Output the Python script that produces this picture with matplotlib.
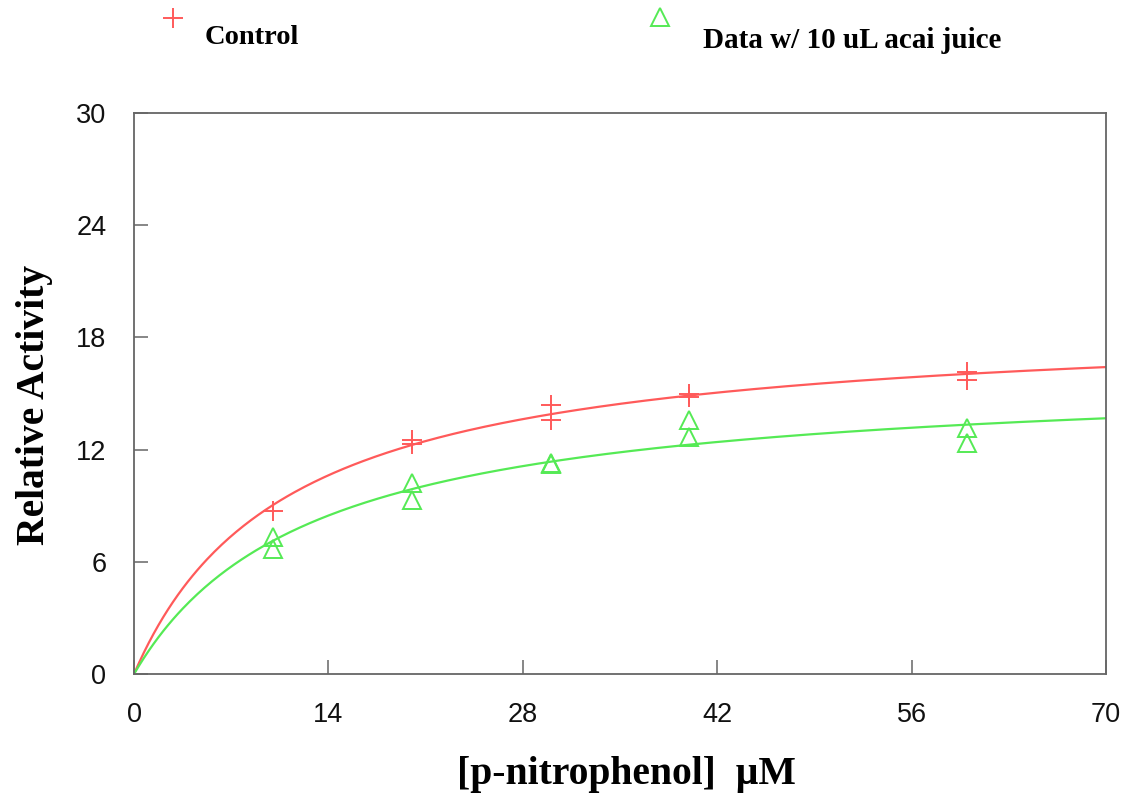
import numpy as np
import matplotlib
matplotlib.use("Agg")
import matplotlib.pyplot as plt

# ---- data ----
conc_control = [10, 20, 20, 30, 30, 40, 40, 60, 60]
act_control = [8.7, 12.5, 12.3, 14.4, 13.6, 15.0, 14.8, 16.15, 15.7]

conc_acai = [10, 10, 20, 20, 30, 30, 40, 40, 60, 60]
act_acai = [7.3, 6.7, 10.2, 9.3, 11.3, 11.25, 13.6, 12.7, 13.15, 12.35]

x_ticks = [0, 14, 28, 42, 56, 70]
y_ticks = [0, 6, 12, 18, 24, 30]
label_control = "Control"
label_acai = "Data w/ 10 uL acai juice"


def mm_fit(s, v):
    """Least-squares Michaelis-Menten fit (Vmax, Km) from the data."""
    s = np.asarray(s, float)
    v = np.asarray(v, float)
    best = None
    for km in np.linspace(0.5, 60, 6000):
        f = s / (km + s)
        vmax = np.dot(f, v) / np.dot(f, f)
        err = np.sum((v - vmax * f) ** 2)
        if best is None or err < best[0]:
            best = (err, vmax, km)
    return best[1], best[2]


red = "#ff5a5a"
green = "#55ea55"

fig = plt.figure(figsize=(11.37, 7.96), dpi=100)
ax = fig.add_axes([0.1179, 0.1533, 0.9727 - 0.1179, 0.858 - 0.1533])

xs = np.linspace(0, 70, 400)
for conc, act, col in [(conc_control, act_control, red), (conc_acai, act_acai, green)]:
    vmax, km = mm_fit(conc, act)
    ax.plot(xs, vmax * xs / (km + xs), color=col, lw=1.6, zorder=2)

ax.plot(conc_control, act_control, linestyle="none", marker="+", ms=15, mew=1.4,
        color=red, zorder=3)
ax.plot(conc_acai, act_acai, linestyle="none", marker="^", ms=13, mew=1.4,
        mfc="none", mec=green, zorder=3)

ax.set_xlim(0, 70)
ax.set_ylim(0, 30)
ax.set_xticks(x_ticks)
ax.set_yticks(y_ticks)
ax.tick_params(direction="in", length=10, width=1.1, color="#666666",
               labelsize=19.5, pad=20, top=False, right=False)
for lab in ax.get_xticklabels() + ax.get_yticklabels():
    lab.set_family("Liberation Sans")
    lab.set_color("#111111")
for sp in ax.spines.values():
    sp.set_color("#666666")
    sp.set_linewidth(1.3)

ax.set_xlabel("[p-nitrophenol]  \u00b5M", family="Liberation Serif", weight="bold",
              fontsize=28.5)
ax.xaxis.set_label_coords(0.507, -0.147)
ax.set_ylabel("Relative Activity", family="Liberation Serif", weight="bold",
              fontsize=28.5)
ax.yaxis.set_label_coords(-0.083, 0.48)

# legend above the axes
fig.lines.append(matplotlib.lines.Line2D([173 / 1137], [1 - 18 / 796], transform=fig.transFigure,
                 marker="+", ms=15, mew=1.4, color=red, linestyle="none"))
fig.lines.append(matplotlib.lines.Line2D([660 / 1137], [1 - 17 / 796], transform=fig.transFigure,
                 marker="^", ms=13, mew=1.4, mfc="none", mec=green, linestyle="none"))
fig.text(205 / 1137, 1 - 38 / 796, label_control, family="Liberation Serif", weight="bold",
         fontsize=20.5, va="center", ha="left")
fig.text(703 / 1137, 1 - 40 / 796, label_acai, family="Liberation Serif", weight="bold",
         fontsize=21, va="center", ha="left")

fig.savefig("out.png", dpi=100)
